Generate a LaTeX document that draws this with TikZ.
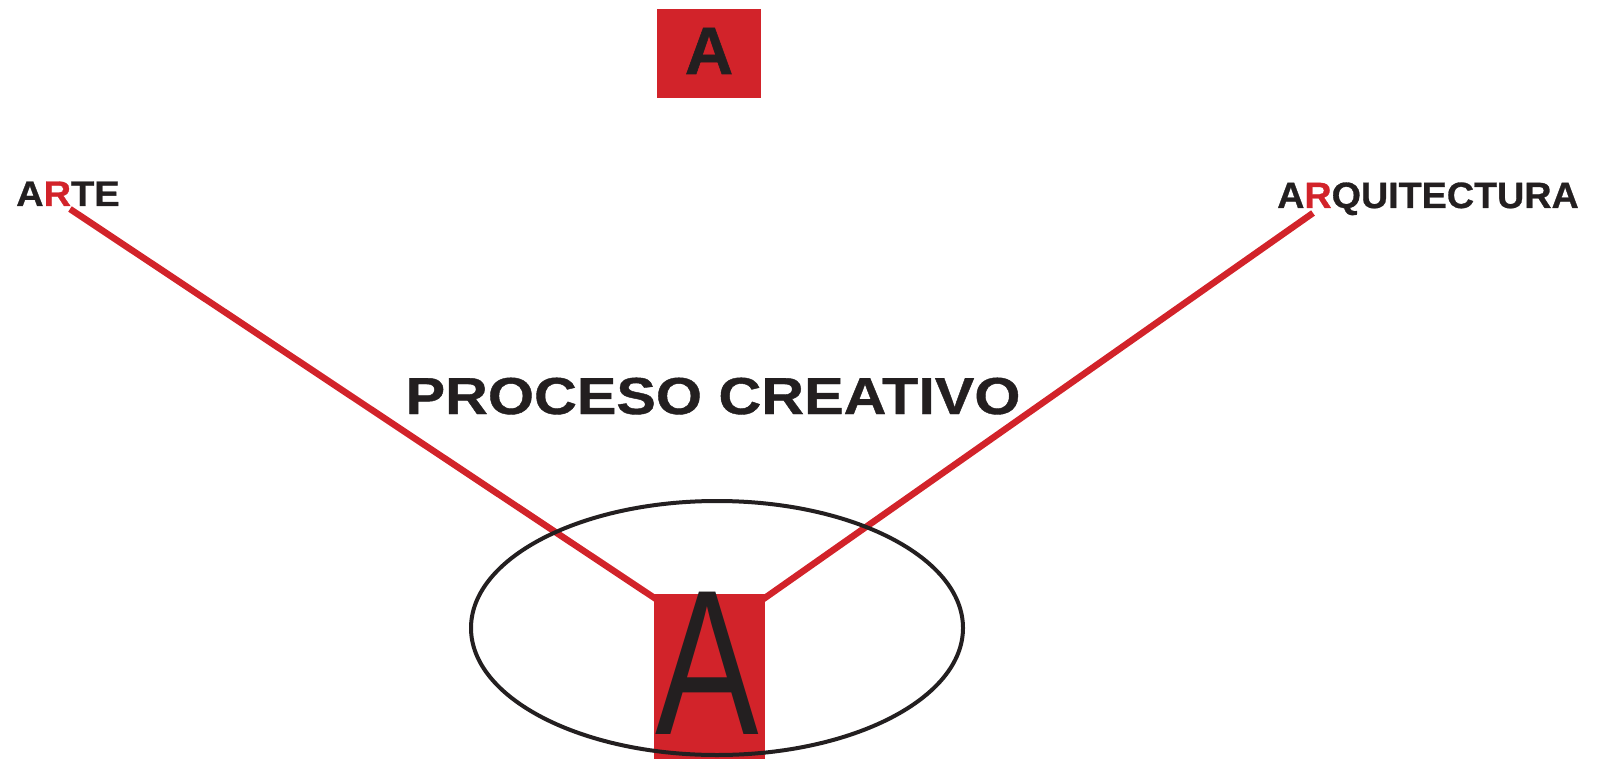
\documentclass[tikz,border=0pt]{standalone}
\usepackage{fontspec}
\usetikzlibrary{calc,shapes.geometric,backgrounds}
\setmainfont{Liberation Sans}
\newfontfamily\artefont[FakeStretch=1.07,FakeBold=0.8]{Liberation Sans Bold}
\newfontfamily\arqfont[FakeStretch=1.03,FakeBold=0.8]{Liberation Sans Bold}
\newfontfamily\titlefont[FakeStretch=1.14,FakeBold=0.8]{Liberation Sans Bold}
\newfontfamily\markfont[FakeBold=0.8]{Liberation Sans Bold}
\newfontfamily\bigfont[FakeStretch=0.75]{Liberation Sans}
\definecolor{brandred}{HTML}{D2232A}
\definecolor{ink}{HTML}{231F20}
\tikzset{
  word/.style={inner sep=0pt, text=ink, anchor=base west},
  redbox/.style={fill=brandred, draw=none, inner sep=0pt},
  link/.style={draw=brandred, line width=6.5pt},
  ring/.style={draw=ink, line width=4pt}
}
\begin{document}
\begin{tikzpicture}[x=1pt, y=-1pt]
  \useasboundingbox (0,0) rectangle (1603,759);

  % small mark at the top
  \node[redbox, minimum width=104pt, minimum height=89pt, anchor=north west] (topbox) at (657,9) {};
  \node[inner sep=0pt, text=ink, anchor=base] (topA) at (709,74) {\markfont\fontsize{67}{67}\selectfont A};

  % side labels
  \node[word] (arte) at (16,206) {\artefont\fontsize{35.5}{36}\selectfont A\textcolor{brandred}{R}TE};
  \node[word] (arq) at (1277,208) {\arqfont\fontsize{36.6}{37}\selectfont A\textcolor{brandred}{R}QUITECTURA};

  % title
  \node[inner sep=0pt, text=ink, anchor=base] (title) at (713,414) {\titlefont\fontsize{52}{52}\selectfont PROCESO CREATIVO};

  % free ends of the two links under the labels
  \coordinate (arteEnd) at (70,209);
  \coordinate (arqEnd) at (1313,213);

  % central block with its big letter
  \node[redbox, minimum width=111pt, minimum height=165pt, anchor=north west] (box) at (654,594) {};
  \node[inner sep=0pt, text=ink, anchor=base] (bigA) at (707,734) {\bigfont\fontsize{207}{207}\selectfont A};

  % links run behind the block
  \begin{pgfonlayer}{background}
    \path[link] (arteEnd) -- ($(box.north west)+(2,5)$);
    \path[link] (arqEnd) -- ($(box.north east)+(-2,5)$);
  \end{pgfonlayer}

  % ellipse around the block
  \node[ring, ellipse, minimum width=492pt, minimum height=254pt, inner sep=0pt] (oval) at (717,628) {};
\end{tikzpicture}
\end{document}
